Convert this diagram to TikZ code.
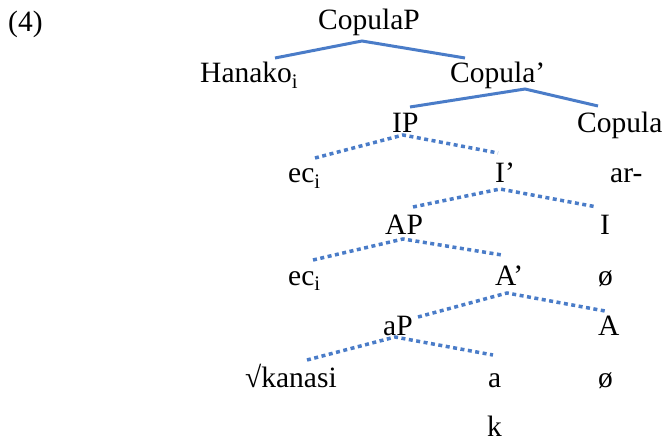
\documentclass[tikz,border=0pt]{standalone}
\usepackage{fontspec}
\setmainfont{Liberation Serif}
\definecolor{treeblue}{HTML}{4A7CC8}
\begin{document}
\begin{tikzpicture}[x=1pt,y=-1pt,
  lbl/.style={anchor=base west,inner sep=0pt,font=\fontsize{29.5}{34}\selectfont},
  solidedge/.style={draw=treeblue,line width=3pt},
  dotedge/.style={draw=treeblue,line width=3.5pt,dash pattern=on 4pt off 3.5pt}]
\useasboundingbox (0,0) rectangle (662,441);
% labels
\node[lbl] (ex) at (8,32) {(4)};
\node[lbl] (copP) at (318,30) {CopulaP};
\node[lbl] (hanako) at (200,83) {Hanako\textsubscript{i}};
\node[lbl] (copbar) at (450,83) {Copula’};
\node[lbl] (IP) at (392,133) {IP};
\node[lbl] (cop) at (577,133) {Copula};
\node[lbl] (ec1) at (288,183) {ec\textsubscript{i}};
\node[lbl] (Ibar) at (495,183) {I’};
\node[lbl] (ar) at (610,183) {ar-};
\node[lbl] (AP) at (385,234) {AP};
\node[lbl] (I) at (600,234) {I};
\node[lbl] (ec2) at (288,285) {ec\textsubscript{i}};
\node[lbl] (Abar) at (495,285) {A’};
\node[lbl] (o1) at (598,285) {ø};
\node[lbl] (aP) at (383,335) {aP};
\node[lbl] (A) at (598,335) {A};
\node[lbl] (root) at (245,387) {√kanasi};
\node[lbl] (a) at (488,387) {a};
\node[lbl] (o2) at (598,387) {ø};
\node[lbl] (k) at (487,436) {k};
% branch points
\coordinate (p1) at (362,41);   \coordinate (l1) at (275,58);  \coordinate (r1) at (465,58);
\coordinate (p2) at (525,89);   \coordinate (l2) at (410,107); \coordinate (r2) at (598,106);
\coordinate (p3) at (403,135);  \coordinate (l3) at (315,158); \coordinate (r3) at (498,153);
\coordinate (p4) at (500,189);  \coordinate (l4) at (413,207); \coordinate (r4) at (597,207);
\coordinate (p5) at (403,239);  \coordinate (l5) at (313,260); \coordinate (r5) at (502,255);
\coordinate (p6) at (507,293);  \coordinate (l6) at (418,317); \coordinate (r6) at (605,311);
\coordinate (p7) at (395,337);  \coordinate (l7) at (307,360); \coordinate (r7) at (493,355);
% connectors
\draw[solidedge] (l1) -- (p1) -- (r1);
\draw[solidedge] (l2) -- (p2) -- (r2);
\draw[dotedge] (l3) -- (p3) -- (r3);
\draw[dotedge] (l4) -- (p4) -- (r4);
\draw[dotedge] (l5) -- (p5) -- (r5);
\draw[dotedge] (l6) -- (p6) -- (r6);
\draw[dotedge] (l7) -- (p7) -- (r7);
\end{tikzpicture}
\end{document}
